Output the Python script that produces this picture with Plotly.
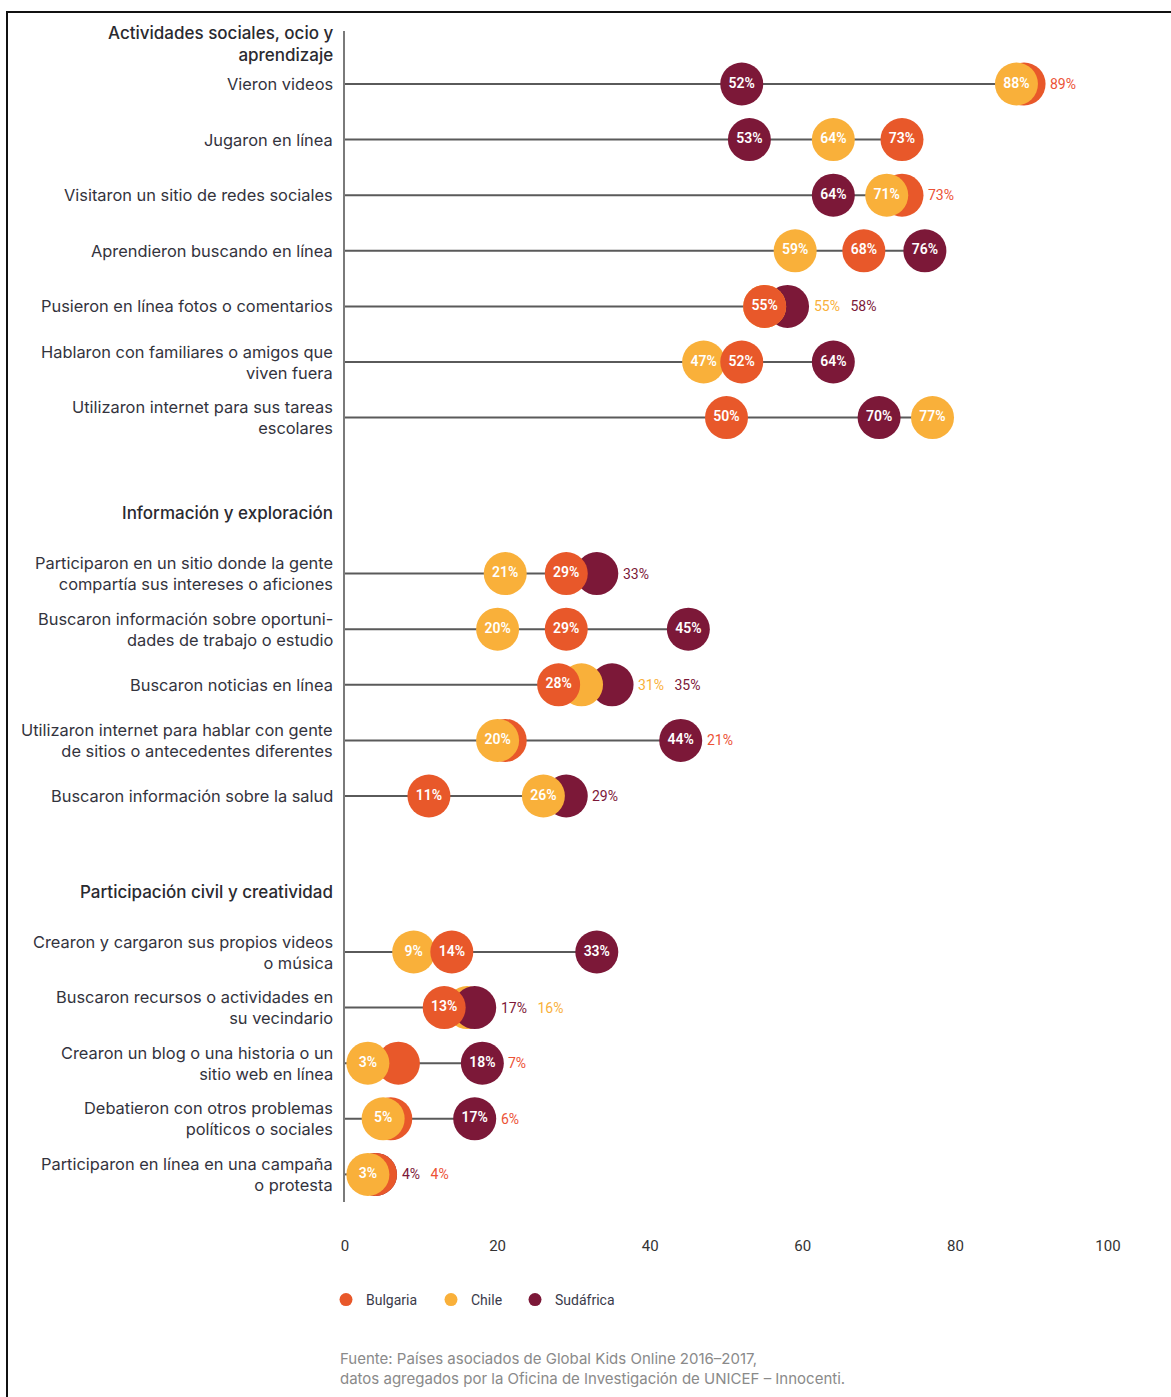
import plotly.graph_objects as go

# ---------------- data ----------------
section_titles = ["Actividades sociales, ocio y<br>aprendizaje",
                  "Información y exploración",
                  "Participación civil y creatividad"]

sec1_labels = ["Vieron videos",
               "Jugaron en línea",
               "Visitaron un sitio de redes sociales",
               "Aprendieron buscando en línea",
               "Pusieron en línea fotos o comentarios",
               "Hablaron con familiares o amigos que<br>viven fuera",
               "Utilizaron internet para sus tareas<br>escolares"]
sec1_bulgaria = [89, 73, 73, 68, 55, 52, 50]
sec1_chile = [88, 64, 71, 59, 55, 47, 77]
sec1_sudafrica = [52, 53, 64, 76, 58, 64, 70]

sec2_labels = ["Participaron en un sitio donde la gente<br>compartía sus intereses o aficiones",
               "Buscaron información sobre oportuni-<br>dades de trabajo o estudio",
               "Buscaron noticias en línea",
               "Utilizaron internet para hablar con gente<br>de sitios o antecedentes diferentes",
               "Buscaron información sobre la salud"]
sec2_bulgaria = [29, 29, 28, 21, 11]
sec2_chile = [21, 20, 31, 20, 26]
sec2_sudafrica = [33, 45, 35, 44, 29]

sec3_labels = ["Crearon y cargaron sus propios videos<br>o música",
               "Buscaron recursos o actividades en<br>su vecindario",
               "Crearon un blog o una historia o un<br>sitio web en línea",
               "Debatieron con otros problemas<br>políticos o sociales",
               "Participaron en línea en una campaña<br>o protesta"]
sec3_bulgaria = [14, 13, 7, 6, 4]
sec3_chile = [9, 16, 3, 5, 3]
sec3_sudafrica = [33, 17, 18, 17, 4]

series_names = ["Bulgaria", "Chile", "Sudáfrica"]
x_ticks = [0, 20, 40, 60, 80, 100]

# stacking order of the dots in each row (bottom -> top): B=Bulgaria, C=Chile, S=Sudáfrica
layer_order = ["SBC", "SCB", "SBC", "SCB", "SCB", "CBS", "BSC",
               "CSB", "CBS", "SCB", "SBC", "BSC",
               "CBS", "CSB", "BCS", "BCS", "SBC"]
# labels of hidden dots written to the right of the row
outside = ["B", "", "B", "", "CS", "", "",
           "S", "", "CS", "B", "S",
           "", "SC", "B", "B", "SB"]

source_text = ("Fuente: Países asociados de Global Kids Online 2016–2017,<br>"
               "datos agregados por la Oficina de Investigación de UNICEF – Innocenti.")

# ---------------- style ----------------
colors = {"B": "#e8582a", "C": "#f9b03a", "S": "#7c1838"}
text_colors = {"B": "#ec5236", "C": "#f9b03a", "S": "#7c1838"}
FONT = "Roboto"
LABEL_FONT = "Inter"

W, H = 1171, 1397
PL, PR = 345, 1108   # plot area left/right (px)
PT, PB = 31, 1202    # plot area top/bottom (px)


def px_x(px):
    return (px - PL) / (PR - PL)


def px_y(py):
    return (PB - py) / (PB - PT)


# ---------------- row positions (pixel-based y axis) ----------------
step = 55.6
first = 84
sections = [
    (sec1_labels, sec1_bulgaria, sec1_chile, sec1_sudafrica),
    (sec2_labels, sec2_bulgaria, sec2_chile, sec2_sudafrica),
    (sec3_labels, sec3_bulgaria, sec3_chile, sec3_sudafrica),
]
rows = []
header_y = []
y0 = first
for si, (labs, b, c, s) in enumerate(sections):
    header_y.append(y0 - (40 if si == 0 else 60.5))
    for i in range(len(labs)):
        rows.append({"label": labs[i], "y": y0 + i * step,
                     "B": b[i], "C": c[i], "S": s[i]})
    y0 = y0 + (len(labs) - 1) * step + 156

fig = go.Figure()

# connecting lines
lx, ly = [], []
for r in rows:
    lx += [0, max(r["B"], r["C"], r["S"]), None]
    ly += [r["y"], r["y"], None]
fig.add_trace(go.Scatter(x=lx, y=ly, mode="lines",
                         line=dict(color="#5a5a5a", width=2),
                         showlegend=False, hoverinfo="skip"))

annotations = []
for k, r in enumerate(rows):
    order = layer_order[k]
    xs = [r[key] for key in order]
    cols = [colors[key] for key in order]
    txt = ["" if key in outside[k] else f"{r[key]}%" for key in order]
    fig.add_trace(go.Scatter(
        x=xs, y=[r["y"]] * 3, mode="markers+text",
        marker=dict(size=43, color=cols, opacity=1, line=dict(width=0)),
        text=txt, textposition="middle center",
        textfont=dict(color="white", size=14, family=FONT, weight=600),
        showlegend=False, hoverinfo="skip", cliponaxis=False))
    # row label
    annotations.append(dict(xref="paper", yref="y", x=0, y=r["y"],
                            text=r["label"], showarrow=False,
                            xanchor="right", yanchor="middle", align="right",
                            xshift=-10,
                            font=dict(family=LABEL_FONT, size=16.4, color="#33333d")))
    if outside[k]:
        parts = [f"<span style='color:{text_colors[key]}'>{r[key]}%</span>"
                 for key in outside[k]]
        annotations.append(dict(xref="x", yref="y",
                                x=max(r["B"], r["C"], r["S"]), y=r["y"],
                                text="   ".join(parts), showarrow=False,
                                xanchor="left", yanchor="middle", xshift=24,
                                font=dict(family=FONT, size=14)))

for t, hy in zip(section_titles, header_y):
    annotations.append(dict(xref="paper", yref="y", x=0, y=hy, text=t,
                            showarrow=False, xanchor="right", yanchor="middle",
                            align="right", xshift=-10,
                            font=dict(family=LABEL_FONT, size=17, color="#2a2a30",
                                      weight=500)))

annotations.append(dict(xref="paper", yref="paper", x=px_x(338), y=px_y(1368),
                        text=source_text, showarrow=False, xanchor="left",
                        yanchor="middle", align="left",
                        font=dict(family=LABEL_FONT, size=15, color="#8a8a8a")))

# legend traces, each in its own legend so the spacing can follow the reference
legend_names = ["legend", "legend2", "legend3"]
legend_px = [326, 431, 515]
for key, name, lg in zip("BCS", series_names, legend_names):
    fig.add_trace(go.Scatter(x=[None], y=[None], mode="markers", name=name,
                             legend=lg, marker=dict(size=13, color=colors[key])))

shapes = [
    dict(type="line", xref="paper", yref="paper", x0=px_x(6), x1=px_x(1171),
         y0=px_y(12), y1=px_y(12), line=dict(color="#111", width=2)),
    dict(type="line", xref="paper", yref="paper", x0=px_x(7), x1=px_x(7),
         y0=px_y(11), y1=px_y(1397), line=dict(color="#111", width=2)),
]

legend_style = dict(orientation="h", y=px_y(1300), xanchor="left",
                    yanchor="middle", font=dict(family=FONT, size=14, color="#3a3a4a"),
                    itemwidth=30, bgcolor="rgba(0,0,0,0)")

fig.update_layout(
    width=W, height=H,
    margin=dict(l=PL, r=W - PR, t=PT, b=H - PB),
    paper_bgcolor="white", plot_bgcolor="white",
    xaxis=dict(range=[0, 100], tickvals=x_ticks, showgrid=False, zeroline=False,
               showline=False, ticks="outside", ticklen=30,
               tickcolor="rgba(0,0,0,0)",
               tickfont=dict(family=FONT, size=15, color="#333")),
    yaxis=dict(range=[PB, PT], showgrid=False, zeroline=False, showticklabels=False,
               showline=True, linecolor="#7a7a7a", linewidth=2),
    showlegend=True,
    legend=dict(x=px_x(legend_px[0]), **legend_style),
    legend2=dict(x=px_x(legend_px[1]), **legend_style),
    legend3=dict(x=px_x(legend_px[2]), **legend_style),
    annotations=annotations,
    shapes=shapes,
)

fig.write_html("out.html")
